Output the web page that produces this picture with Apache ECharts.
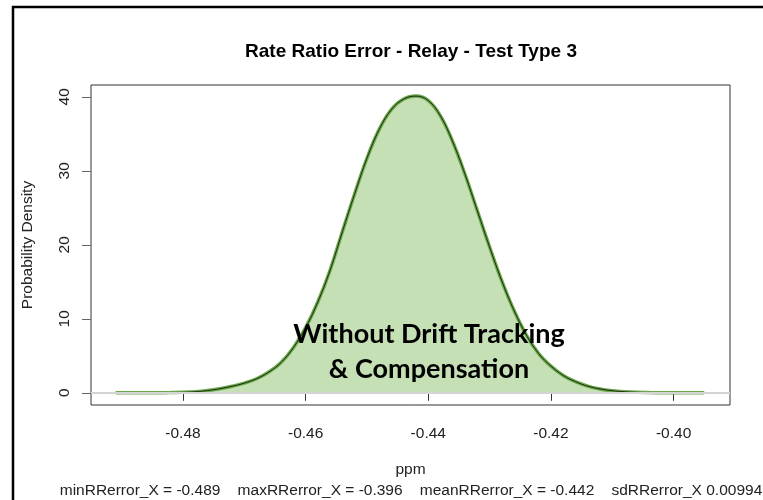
<!DOCTYPE html>
<html>
<head>
<meta charset="utf-8">
<script src="https://cdn.jsdelivr.net/npm/echarts@6/dist/echarts.min.js"></script>
<style>
html,body{margin:0;padding:0;background:#fff;}
#chart{width:763px;height:500px;}
</style>
</head>
<body>
<div id="chart"></div>
<script>
// ---- data ----
var titleText = 'Rate Ratio Error - Relay - Test Type 3';
var xAxisName = 'ppm';
var yAxisName = 'Probability Density';
var statsText = 'minRRerror_X = -0.489    maxRRerror_X = -0.396    meanRRerror_X = -0.442    sdRRerror_X 0.00994';
var annotationLines = ['Without Drift Tracking', '& Compensation'];

var densityX = [-0.491, -0.490, -0.488, -0.486, -0.484, -0.482, -0.480, -0.478, -0.476, -0.474,
                -0.472, -0.470, -0.468, -0.466, -0.464, -0.462, -0.460, -0.458, -0.456, -0.454,
                -0.452, -0.450, -0.448, -0.446, -0.444, -0.442, -0.440, -0.438, -0.436, -0.434,
                -0.432, -0.430, -0.428, -0.426, -0.424, -0.422, -0.420, -0.418, -0.416, -0.414,
                -0.412, -0.410, -0.408, -0.406, -0.404, -0.402, -0.400, -0.398, -0.396, -0.395];
var densityY = [0, 0, 0, 0, 0.01, 0.03, 0.06, 0.14, 0.3, 0.55,
                0.88, 1.3, 1.9, 2.8, 4.1, 6.1, 8.8, 12.3, 16.6, 21.8,
                26.9, 31.7, 35.6, 38.3, 39.7, 40.1, 39.5, 37.4, 33.9, 29.5,
                24.6, 19.7, 15.1, 11.1, 7.8, 5.3, 3.6, 2.35, 1.5, 0.9,
                0.52, 0.28, 0.14, 0.06, 0.03, 0.01, 0, 0, 0, 0];

var xTicks = [-0.48, -0.46, -0.44, -0.42, -0.40];
var yTicks = [0, 10, 20, 30, 40];
var xRange = [-0.4950, -0.3908];
var yRange = [-1.65, 41.6];
var zeroLine = 0;

// ---- build ----
var pts = densityX.map(function (x, i) { return [x, densityY[i]]; });
var chart = echarts.init(document.getElementById('chart'), null, {renderer: 'canvas'});
var font = '"Liberation Sans", Arial, sans-serif';
var fs = 15.5;

var option = {
  backgroundColor: '#ffffff',
  animation: false,
  title: {
    text: titleText,
    left: 406, top: 37, textAlign: 'center',
    textStyle: {fontFamily: font, fontSize: 19, fontWeight: 'bold', color: '#000'}
  },
  grid: {
    left: 91, top: 85, width: 639, height: 320,
    show: true, borderColor: '#333', borderWidth: 1, backgroundColor: 'transparent'
  },
  xAxis: {
    type: 'value', min: xRange[0], max: xRange[1],
    name: xAxisName, nameLocation: 'middle', nameGap: 57,
    nameTextStyle: {fontFamily: font, fontSize: fs, color: '#222'},
    axisLine: {show: false},
    axisTick: {show: true, inside: false, length: 8, customValues: xTicks, lineStyle: {color: '#333'}},
    axisLabel: {show: true, customValues: xTicks, margin: 21, fontFamily: font, fontSize: fs, color: '#222',
      formatter: function (v) { return v.toFixed(2); }},
    splitLine: {show: false}
  },
  yAxis: {
    type: 'value', min: yRange[0], max: yRange[1],
    name: yAxisName, nameLocation: 'middle', nameGap: 55, nameRotate: 90,
    nameTextStyle: {fontFamily: font, fontSize: fs, color: '#222'},
    axisLine: {show: false},
    axisTick: {show: true, inside: false, length: 9, customValues: yTicks, lineStyle: {color: '#666'}},
    axisLabel: {show: true, customValues: yTicks, rotate: 90, margin: 18, fontFamily: font, fontSize: fs, color: '#222'},
    splitLine: {show: false}
  },
  series: [
    {
      type: 'line', data: pts, showSymbol: false, smooth: 0.4,
      lineStyle: {width: 0}, areaStyle: {color: '#c5e0b4', opacity: 1, origin: 0},
      z: 1,
      markLine: {
        silent: true, symbol: 'none', label: {show: false},
        lineStyle: {color: '#d4d4d4', width: 2, type: 'solid'},
        data: [{yAxis: zeroLine}]
      }
    },
    {
      type: 'line', data: pts, showSymbol: false, smooth: 0.4,
      lineStyle: {width: 3.5, color: '#6aa84a'}, z: 3
    },
    {
      type: 'line', data: pts, showSymbol: false, smooth: 0.4,
      lineStyle: {width: 1, color: '#1c2a12'}, z: 4
    }
  ],
  graphic: [
    {
      type: 'rect', silent: true, z: 100,
      shape: {x: 13, y: 7, width: 900, height: 700},
      style: {fill: 'none', stroke: '#000', lineWidth: 2.5}
    },
    {
      type: 'text', silent: true, z: 100,
      x: 429, y: 334,
      style: {text: annotationLines[0], fontFamily: 'Lato, "Open Sans", sans-serif', fontWeight: 'bold', fontSize: 27,
        fill: '#000', textAlign: 'center', textVerticalAlign: 'middle'}
    },
    {
      type: 'text', silent: true, z: 100,
      x: 429, y: 369,
      style: {text: annotationLines[1], fontFamily: 'Lato, "Open Sans", sans-serif', fontWeight: 'bold', fontSize: 27,
        fill: '#000', textAlign: 'center', textVerticalAlign: 'middle'}
    },
    {
      type: 'text', silent: true, z: 100,
      x: 411, y: 491,
      style: {text: statsText, fontFamily: font, fontSize: fs, fill: '#222', textAlign: 'center', textVerticalAlign: 'middle'}
    }
  ]
};
chart.setOption(option);
</script>
</body>
</html>
